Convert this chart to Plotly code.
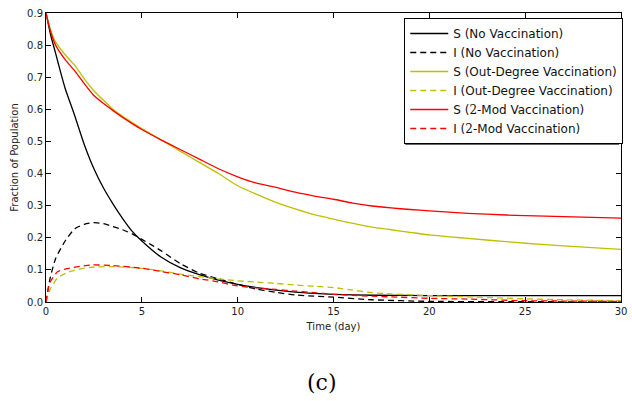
import plotly.graph_objects as go

t_sn = [0, 0.25, 0.5, 0.75, 1, 1.5, 2, 2.5, 3, 3.5, 4, 4.5, 5, 6, 7, 8, 9, 10, 11, 12, 13, 14, 15, 17, 20, 25, 30]
s_none = [0.9, 0.83, 0.775, 0.718, 0.665, 0.58, 0.49, 0.415, 0.355, 0.305, 0.26, 0.22, 0.19, 0.14, 0.107, 0.085, 0.068, 0.055, 0.045, 0.037, 0.031, 0.027, 0.024, 0.021, 0.02, 0.02, 0.02]

t_in = [0, 0.2, 0.5, 1, 1.5, 2, 2.5, 3, 3.5, 4, 4.5, 5, 5.5, 6, 7, 8, 9, 10, 11, 12, 13, 14, 15, 17, 20, 25, 30]
i_none = [0.0, 0.07, 0.135, 0.19, 0.228, 0.242, 0.247, 0.244, 0.235, 0.225, 0.212, 0.195, 0.178, 0.16, 0.12, 0.09, 0.072, 0.055, 0.04, 0.03, 0.022, 0.018, 0.015, 0.007, 0.002, 0.001, 0.0]

t_s = [0, 0.25, 0.5, 1, 1.5, 2, 2.5, 3, 3.5, 4, 5, 6, 7, 8, 9, 10, 11, 12, 13, 14, 15, 16, 17, 18, 19, 20, 22, 24, 25, 27, 30]
s_out = [0.9, 0.845, 0.81, 0.77, 0.737, 0.695, 0.658, 0.628, 0.6, 0.578, 0.54, 0.505, 0.47, 0.435, 0.4, 0.362, 0.335, 0.31, 0.29, 0.272, 0.258, 0.245, 0.233, 0.225, 0.217, 0.209, 0.198, 0.188, 0.183, 0.175, 0.164]
s_mod = [0.9, 0.84, 0.8, 0.755, 0.72, 0.68, 0.643, 0.618, 0.596, 0.575, 0.537, 0.505, 0.475, 0.445, 0.415, 0.39, 0.37, 0.357, 0.342, 0.33, 0.32, 0.308, 0.299, 0.293, 0.288, 0.284, 0.276, 0.271, 0.269, 0.266, 0.261]

t_i = [0, 0.2, 0.6, 1.2, 2.3, 3.4, 5, 6, 7, 8, 8.7, 10, 11, 12, 13, 14, 15, 16, 17, 18, 20, 22, 25, 27, 30]
i_out = [0.0, 0.037, 0.075, 0.094, 0.108, 0.11, 0.105, 0.097, 0.087, 0.079, 0.074, 0.066, 0.062, 0.058, 0.053, 0.049, 0.045, 0.037, 0.029, 0.025, 0.02, 0.016, 0.01, 0.007, 0.004]
i_mod = [0.0, 0.06, 0.094, 0.105, 0.115, 0.114, 0.105, 0.095, 0.085, 0.072, 0.066, 0.05, 0.044, 0.039, 0.034, 0.029, 0.024, 0.021, 0.018, 0.016, 0.0115, 0.009, 0.004, 0.003, 0.002]

x_ticks = [0, 5, 10, 15, 20, 25, 30]
y_ticks = [0.0, 0.1, 0.2, 0.3, 0.4, 0.5, 0.6, 0.7, 0.8, 0.9]

BLACK = "#000000"
YEL = "#bfbf00"
RED = "#ff0000"
DASH = "6px,4px"
two = "<span style=\"font-family:'DejaVu Serif'\">2</span>"

fig = go.Figure()
series = [
    (t_sn, s_none, BLACK, "solid", "S (No Vaccination)"),
    (t_in, i_none, BLACK, DASH, "I (No Vaccination)"),
    (t_s, s_out, YEL, "solid", "S (Out-Degree Vaccination)"),
    (t_i, i_out, YEL, DASH, "I (Out-Degree Vaccination)"),
    (t_s, s_mod, RED, "solid", "S (" + two + "-Mod Vaccination)"),
    (t_i, i_mod, RED, DASH, "I (" + two + "-Mod Vaccination)"),
]
for x, y, c, d, n in series:
    fig.add_trace(go.Scatter(x=x, y=y, mode="lines", name=n,
                             line=dict(color=c, width=1.3, dash=d, shape="spline", smoothing=0.6)))

axis_common = dict(showgrid=False, zeroline=False, showline=True, linecolor="black", linewidth=1,
                   mirror="ticks", ticks="inside", ticklen=5, tickcolor="black",
                   ticklabeloverflow="allow",
                   tickfont=dict(family="DejaVu Sans", size=10, color="#222"))
fig.update_xaxes(range=[0, 30], tickvals=x_ticks, ticktext=[str(v) for v in x_ticks],
                 title=dict(text="Time (day)", font=dict(family="DejaVu Sans", size=10, color="#222"), standoff=6),
                 **axis_common)
fig.update_yaxes(range=[0, 0.9], tickvals=y_ticks, ticktext=["%.1f" % v for v in y_ticks],
                 title=dict(text="Fraction of Population", font=dict(family="DejaVu Sans", size=10, color="#222"), standoff=6),
                 **axis_common)

lx, ly = (408 - 46) / 581, (302 - 18) / 289
fig.update_layout(
    width=632, height=401,
    margin=dict(l=46, r=5, t=13, b=99),
    plot_bgcolor="white", paper_bgcolor="white",
    legend=dict(x=lx, y=ly, xanchor="left", yanchor="top", bgcolor="white",
                bordercolor="black", borderwidth=1,
                font=dict(family="DejaVu Sans", size=12, color="#111"),
                tracegroupgap=0, itemwidth=38),
    shapes=[dict(type="rect", xref="paper", yref="paper",
                 x0=(409 - 46) / 581, x1=(625 - 46) / 581,
                 y0=(302 - 145) / 289, y1=(302 - 21) / 289,
                 fillcolor="#666", line=dict(width=0), layer="above")],
    annotations=[dict(text="(c)", xref="paper", yref="paper",
                      x=(325 - 46) / 581, y=(302 - 382) / 289, showarrow=False,
                      font=dict(family="DejaVu Serif", size=22, color="black"),
                      xanchor="center", yanchor="middle")],
    showlegend=True,
)
fig.write_html("out.html")
